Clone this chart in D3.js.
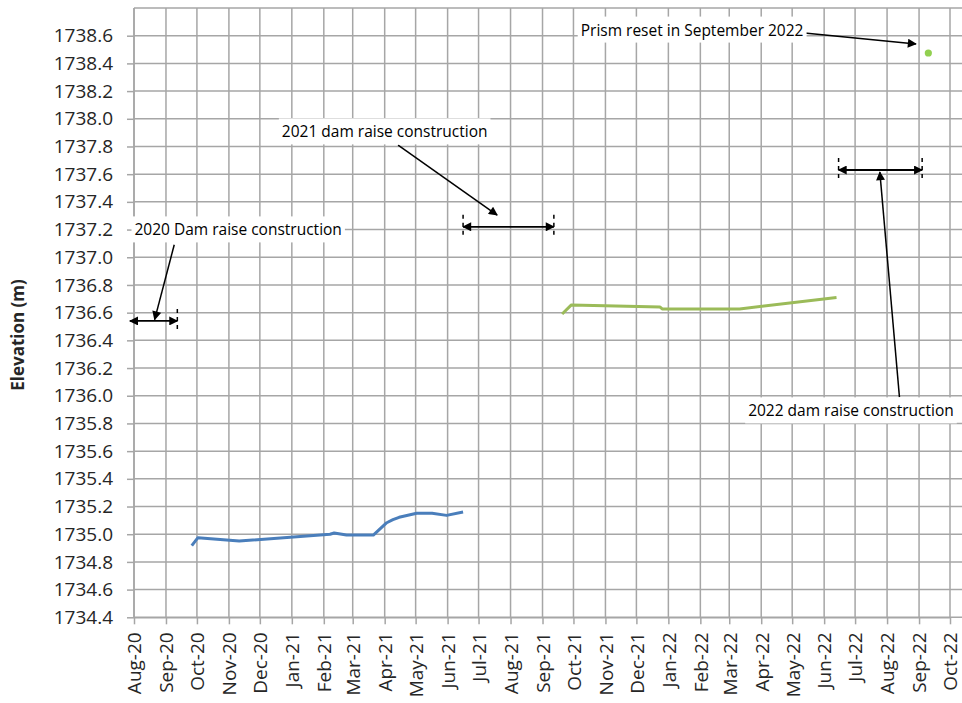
<!DOCTYPE html>
<html>
<head>
<meta charset="utf-8">
<script src="https://cdn.jsdelivr.net/npm/d3@7"></script>
<style>
  html, body { margin: 0; padding: 0; background: #fff; }
  svg { display: block; }
</style>
</head>
<body>
<svg id="chart" width="962" height="703"></svg>
<script>
// ---------------- data ----------------
const blueDates  = ["2020-09-26","2020-10-02","2020-11-11","2021-02-07","2021-02-11","2021-02-23","2021-03-21","2021-04-03","2021-04-09","2021-04-15","2021-05-02","2021-05-17","2021-05-31","2021-06-16"];
const blueValues = [1734.917,1734.975,1734.951,1735.000,1735.009,1734.994,1734.994,1735.083,1735.105,1735.122,1735.151,1735.151,1735.136,1735.160];

const greenDates  = ["2021-09-20","2021-09-29","2021-12-24","2021-12-26","2022-03-11","2022-06-13"];
const greenValues = [1736.590,1736.656,1736.640,1736.627,1736.627,1736.710];

const resetDates  = ["2022-09-10"];
const resetValues = [1738.475];

const yTickValues = [1734.4,1734.6,1734.8,1735.0,1735.2,1735.4,1735.6,1735.8,1736.0,1736.2,1736.4,1736.6,1736.8,1737.0,1737.2,1737.4,1737.6,1737.8,1738.0,1738.2,1738.4,1738.6];
const yGridTop = 1738.8;
const xTickStart = "2020-08-01";
const xTickEnd   = "2022-10-01";
const yTitle = "Elevation (m)";

// annotation texts and anchor points (date, value)
const annTexts      = ["2020 Dam raise construction","2021 dam raise construction","2022 dam raise construction","Prism reset in September 2022"];
const annTextDates  = ["2020-11-10","2021-04-01","2022-06-27","2022-01-24"];
const annTextValues = [1737.197,1737.905,1735.89,1738.64];
// arrow from text to target
const arrowFromDates  = ["2020-09-09","2021-04-14","2022-08-13","2022-05-13"];
const arrowFromValues = [1737.09,1737.81,1735.99,1738.62];
const arrowToDates    = ["2020-08-21","2021-07-19","2022-07-25","2022-08-29"];
const arrowToValues   = [1736.55,1737.305,1737.615,1738.54];
// construction periods (double-headed arrows)
const periodStart  = ["2020-07-28","2021-06-16","2022-06-15"];
const periodEnd    = ["2020-09-12","2021-09-12","2022-09-04"];
const periodValue  = [1736.54,1737.22,1737.63];
const periodStartTick = [false,true,true];
const periodEndTick   = [true,true,true];

// ---------------- chart ----------------
const W = 962, H = 703;
const svg = d3.select("#chart");
const parse = d3.utcParse("%Y-%m-%d");
const font = "'Open Sans', sans-serif";

const x = d3.scaleUtc().domain([parse(xTickStart), parse(xTickEnd)]).range([134, 950]);
const y = d3.scaleLinear().domain([1734.4, 1738.6]).range([617.3, 35.7]);

const plotLeft = x.range()[0];
const plotBottom = y(1734.4);
const plotTop = y(yGridTop);
const plotRight = W + 20;

const gridColor = "#a6a6a6";

// defs: arrow marker
const defs = svg.append("defs");
defs.append("marker")
  .attr("id","arrow").attr("viewBox","0 0 10 10")
  .attr("refX",9).attr("refY",5)
  .attr("markerWidth",11).attr("markerHeight",9)
  .attr("markerUnits","userSpaceOnUse")
  .attr("orient","auto-start-reverse")
  .append("path").attr("d","M0,0 L10,5 L0,10 z").attr("fill","#000");

// vertical grid (months)
const monthTicks = d3.utcMonth.range(parse(xTickStart), d3.utcMonth.offset(parse(xTickEnd), 2));
svg.append("g").selectAll("line").data(monthTicks).join("line")
  .attr("x1", d => x(d)).attr("x2", d => x(d))
  .attr("y1", plotTop).attr("y2", plotBottom)
  .attr("stroke", gridColor).attr("stroke-width", 1.5);

// horizontal grid
const gridVals = yTickValues.concat([yGridTop]);
svg.append("g").selectAll("line").data(gridVals).join("line")
  .attr("x1", plotLeft).attr("x2", plotRight)
  .attr("y1", d => y(d)).attr("y2", d => y(d))
  .attr("stroke", gridColor).attr("stroke-width", 1.5);

// y axis
const yAxis = d3.axisLeft(y).tickValues(yTickValues).tickFormat(d3.format(".1f")).tickSize(7).tickSizeOuter(0).tickPadding(14);
const gy = svg.append("g").attr("transform", `translate(${plotLeft},0)`).call(yAxis);
gy.select(".domain").attr("stroke", gridColor).attr("stroke-width", 1.5).attr("d", `M0,${plotTop}V${plotBottom}`);
gy.selectAll(".tick line").attr("stroke", gridColor).attr("stroke-width", 1.5);
gy.selectAll(".tick text").attr("font-family", font).attr("font-size", 19).attr("fill", "#262626");

// x axis
const xTicks = d3.utcMonth.range(parse(xTickStart), d3.utcMonth.offset(parse(xTickEnd), 1));
const xAxis = d3.axisBottom(x).tickValues(xTicks).tickFormat(d3.utcFormat("%b-%y")).tickSize(7).tickSizeOuter(0).tickPadding(10);
const gx = svg.append("g").attr("transform", `translate(0,${plotBottom})`).call(xAxis);
gx.select(".domain").attr("stroke", gridColor).attr("stroke-width", 1.5);
gx.selectAll(".tick line").attr("stroke", gridColor).attr("stroke-width", 1.5);
gx.selectAll(".tick text")
  .attr("font-family", font).attr("font-size", 19).attr("fill", "#262626")
  .attr("transform", "rotate(-90)")
  .attr("text-anchor", "end")
  .attr("x", -15).attr("y", 0).attr("dy", "0.36em");

// y title
svg.append("text")
  .attr("transform", `translate(24,335) rotate(-90)`)
  .attr("text-anchor","middle")
  .attr("font-family", font).attr("font-weight","bold").attr("font-size",17).attr("fill","#262626")
  .text(yTitle);

// series
const line = d3.line().x(d => x(d[0])).y(d => y(d[1]));
const blue = blueDates.map((d,i) => [parse(d), blueValues[i]]);
const green = greenDates.map((d,i) => [parse(d), greenValues[i]]);
svg.append("path").datum(blue).attr("d", line).attr("fill","none")
  .attr("stroke","#4a7ebb").attr("stroke-width",3).attr("stroke-linejoin","round");
svg.append("path").datum(green).attr("d", line).attr("fill","none")
  .attr("stroke","#9bbb59").attr("stroke-width",3).attr("stroke-linejoin","round");
svg.append("g").selectAll("circle").data(resetDates.map((d,i)=>[parse(d), resetValues[i]])).join("circle")
  .attr("cx", d => x(d[0])).attr("cy", d => y(d[1])).attr("r", 3.6).attr("fill","#92d050");

// construction periods
const ann = svg.append("g");
periodStart.forEach((s,i) => {
  const x1 = x(parse(s)), x2 = x(parse(periodEnd[i])), yy = y(periodValue[i]);
  ann.append("line").attr("x1",x1).attr("x2",x2).attr("y1",yy).attr("y2",yy)
    .attr("stroke","#000").attr("stroke-width",1.8)
    .attr("marker-start","url(#arrow)").attr("marker-end","url(#arrow)");
  [[periodStartTick[i], x1],[periodEndTick[i], x2]].forEach(([on, xx]) => {
    if (!on) return;
    ann.append("line").attr("x1",xx).attr("x2",xx).attr("y1",yy-12).attr("y2",yy+12)
      .attr("stroke","#000").attr("stroke-width",1.5).attr("stroke-dasharray","4,4");
  });
});

// arrows
arrowFromDates.forEach((d,i) => {
  ann.append("line")
    .attr("x1", x(parse(d))).attr("y1", y(arrowFromValues[i]))
    .attr("x2", x(parse(arrowToDates[i]))).attr("y2", y(arrowToValues[i]))
    .attr("stroke","#000").attr("stroke-width",1.5)
    .attr("marker-end","url(#arrow)");
});

// annotation text with white boxes
annTexts.forEach((t,i) => {
  const g = ann.append("g");
  const rect = g.append("rect").attr("fill","#fff");
  const txt = g.append("text")
    .attr("x", x(parse(annTextDates[i]))).attr("y", y(annTextValues[i]))
    .attr("text-anchor","middle").attr("dy","0.35em")
    .attr("font-family", font).attr("font-size",15.5).attr("fill","#000")
    .text(t);
  const bb = txt.node().getBBox();
  rect.attr("x", bb.x-3).attr("y", bb.y-2).attr("width", bb.width+6).attr("height", bb.height+4);
});
</script>
</body>
</html>
